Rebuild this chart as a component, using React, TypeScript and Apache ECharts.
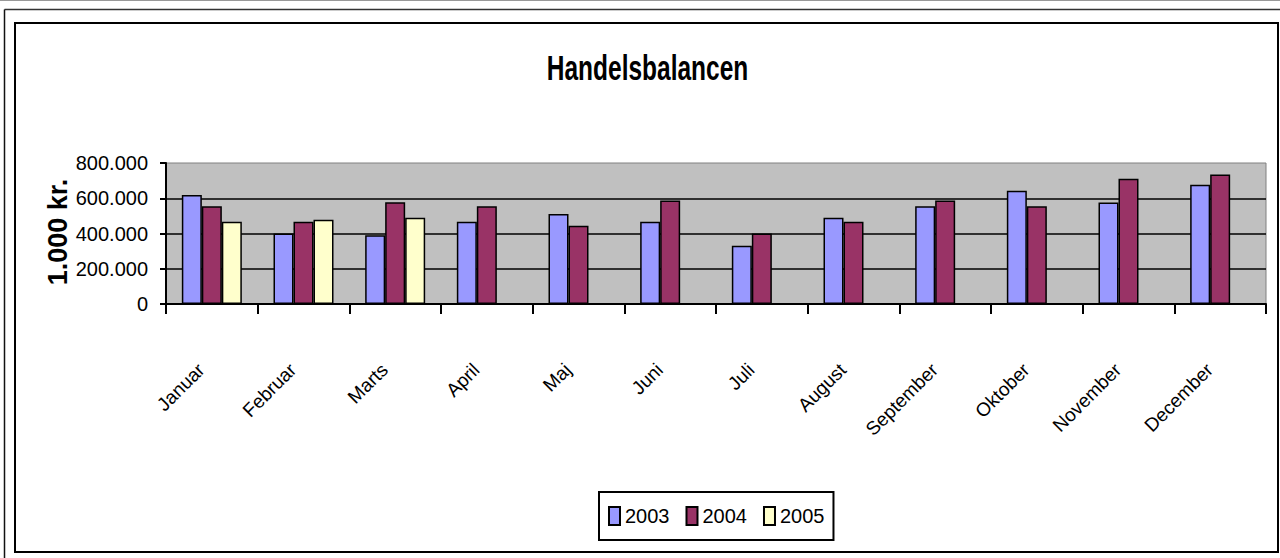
import React, { useEffect, useRef } from "react";
import * as echarts from "echarts";

const months = [
  "Januar", "Februar", "Marts", "April", "Maj", "Juni",
  "Juli", "August", "September", "Oktober", "November", "December",
];
const seriesNames = ["2003", "2004", "2005"];
const values2003 = [619000, 400000, 390000, 467000, 511000, 467000, 330000, 489000, 554000, 643000, 576000, 676000];
const values2004 = [554000, 467000, 578000, 554000, 444000, 587000, 400000, 467000, 587000, 554000, 710000, 735000];
const values2005 = [467000, 478000, 489000, null, null, null, null, null, null, null, null, null];
const seriesColors = ["#9999FF", "#993366", "#FFFFCC"];
const yTicks = { min: 0, max: 800000, interval: 200000 };

const SANS = "'Liberation Sans', Arial, sans-serif";

function fmt(v: number): string {
  return String(Math.round(v)).replace(/\B(?=(\d{3})+(?!\d))/g, ".");
}

export default function App() {
  const ref = useRef<HTMLDivElement>(null);
  useEffect(() => {
    if (!ref.current) return;
    const chart = echarts.init(ref.current, null, { renderer: "svg" });
    const data = [values2003, values2004, values2005];
    chart.setOption({
      animation: false,
      backgroundColor: "#ffffff",
      graphic: [
        { type: "line", shape: { x1: 0, y1: 0.5, x2: 1280, y2: 0.5 }, style: { stroke: "#999", lineWidth: 1 }, silent: true },
        { type: "line", shape: { x1: 4.5, y1: 9.5, x2: 1280, y2: 9.5 }, style: { stroke: "#333", lineWidth: 1.5 }, silent: true },
        { type: "line", shape: { x1: 4.5, y1: 9.5, x2: 4.5, y2: 558 }, style: { stroke: "#111", lineWidth: 1.5 }, silent: true },
        { type: "rect", shape: { x: 15, y: 23, width: 1263, height: 529 }, style: { fill: "none", stroke: "#000", lineWidth: 2 }, silent: true },
        {
          type: "text", x: 647.5, y: 67, scaleY: 1.45,
          style: { text: "Handelsbalancen", font: `bold 24.5px ${SANS}`, fill: "#000", align: "center", verticalAlign: "middle" },
          silent: true,
        },
        {
          type: "text", x: 58, y: 232, rotation: Math.PI / 2,
          style: { text: "1.000 kr.", font: `bold 27px ${SANS}`, fill: "#000", align: "center", verticalAlign: "middle" },
          silent: true,
        },
      ],
      legend: {
        data: seriesNames,
        left: 599,
        top: 492,
        orient: "horizontal",
        icon: "rect",
        itemWidth: 11,
        itemHeight: 18,
        itemGap: 16,
        padding: [14, 9],
        borderColor: "#000",
        borderWidth: 2,
        backgroundColor: "#fff",
        textStyle: { fontFamily: SANS, fontSize: 20, color: "#000" },
        selectedMode: false,
      },
      grid: {
        left: 166,
        right: 14,
        top: 163,
        bottom: 254,
        show: true,
        backgroundColor: "#C0C0C0",
        borderColor: "#808080",
        borderWidth: 1,
      },
      xAxis: {
        type: "category",
        data: months,
        boundaryGap: true,
        axisLine: { show: true, lineStyle: { color: "#000", width: 2 } },
        axisTick: { show: true, length: 10, lineStyle: { color: "#000", width: 2 } },
        axisLabel: {
          interval: 0,
          rotate: 45,
          margin: 52,
          padding: [0, 15, 0, 0],
          fontFamily: SANS,
          fontSize: 19,
          color: "#000",
        },
        splitLine: { show: false },
      },
      yAxis: {
        type: "value",
        min: yTicks.min,
        max: yTicks.max,
        interval: yTicks.interval,
        axisLine: { show: true, lineStyle: { color: "#000", width: 2 } },
        axisTick: { show: true, length: 6, lineStyle: { color: "#000", width: 2 } },
        axisLabel: {
          margin: 18,
          fontFamily: SANS,
          fontSize: 20,
          color: "#000",
          formatter: (v: number) => fmt(v),
        },
        splitLine: { show: true, showMaxLine: false, lineStyle: { color: "#000", width: 1.5 } },
      },
      series: seriesNames.map((name, i) => ({
        name,
        type: "bar",
        data: data[i],
        barWidth: 20,
        barGap: "0%",
        itemStyle: { color: seriesColors[i], borderColor: "#000", borderWidth: 1.5 },
      })),
    });
    return () => chart.dispose();
  }, []);
  return (
    <div
      ref={ref}
      style={{ position: "fixed", left: 0, top: 0, width: 1280, height: 558 }}
    />
  );
}
